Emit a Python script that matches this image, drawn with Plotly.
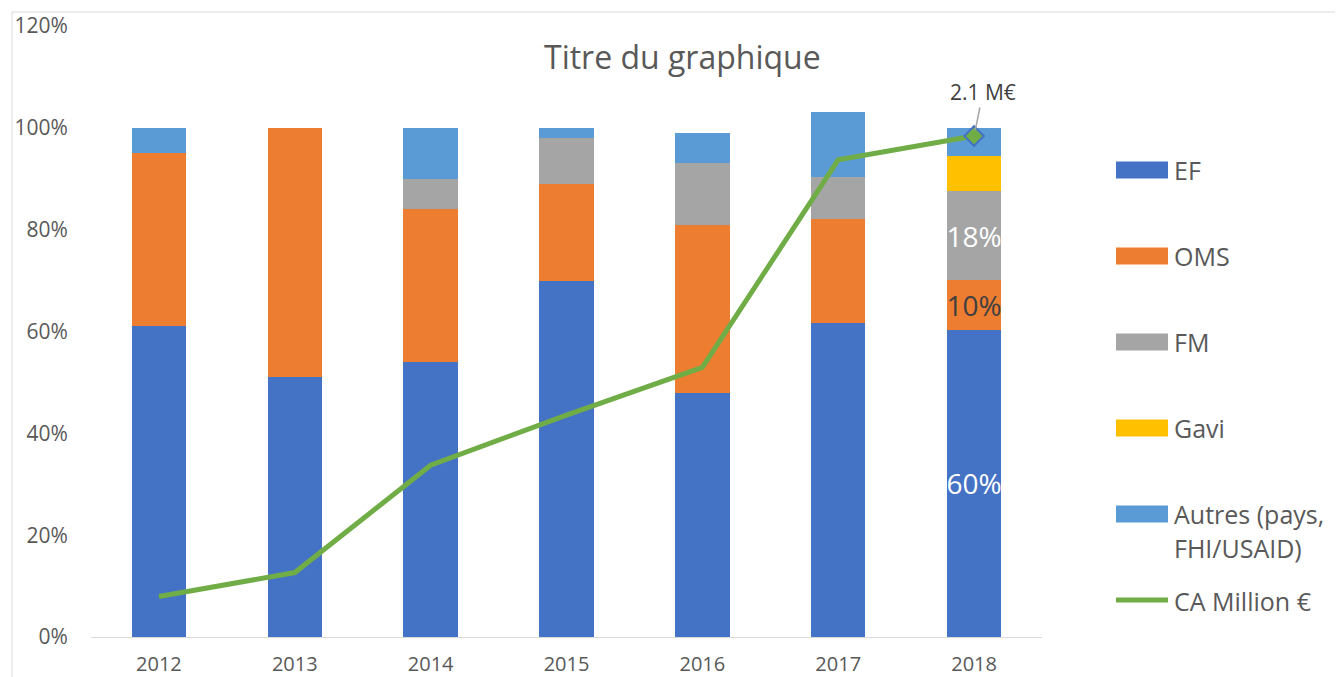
import plotly.graph_objects as go

years = ["2012", "2013", "2014", "2015", "2016", "2017", "2018"]
ef = [61, 51, 54, 70, 48, 61.7, 60.3]
oms = [34, 49, 30, 19, 33, 20.4, 9.8]
fm = [0, 0, 6, 9, 12, 8.3, 17.5]
gavi = [0, 0, 0, 0, 0, 0, 6.9]
autres = [5, 0, 10, 2, 6, 12.7, 5.5]
ca_meur = [0.17, 0.27, 0.72, 0.93, 1.13, 2.0, 2.1]

series = [
    ("EF", ef, "#4472C4", "white"),
    ("OMS", oms, "#ED7D31", "#404040"),
    ("FM", fm, "#A5A5A5", "white"),
    ("Gavi", gavi, "#FFC000", None),
    ("Autres (pays,<br>FHI/USAID)", autres, "#5B9BD5", None),
]
labelled_year = "2018"

FONT = "Open Sans"
GREY = "#595959"

# page offset (default body margin of the html page)
OFF = 8
# plot-area geometry in reference-page pixels
L0, R0, T0, B0 = 91, 1042, 26, 637
L, R, T, B = L0 - OFF, R0 - OFF, T0 - OFF, B0 - OFF
W, H = 1343 - OFF, 677 - OFF


def px(x):
    return (x - L0) / (R0 - L0)


def py(y):
    return (B0 - y) / (B0 - T0)


fig = go.Figure()
for name, vals, color, tcolor in series:
    kw = {}
    if tcolor is not None:
        kw = dict(
            text=[f"{v:.0f}%" if y == labelled_year else "" for y, v in zip(years, vals)],
            textposition="inside", insidetextanchor="middle", textangle=0,
            constraintext="none",
            textfont=dict(family=FONT, size=28, color=tcolor),
        )
    fig.add_trace(go.Bar(x=years, y=vals, name=name,
                         marker=dict(color=color, line=dict(width=0)),
                         showlegend=False, **kw))

fig.add_trace(go.Scatter(
    x=years, y=ca_meur, name="CA Million €", yaxis="y2", mode="lines",
    line=dict(color="#70AD47", width=5), showlegend=False,
))
fig.add_trace(go.Scatter(
    x=years[-1:], y=ca_meur[-1:], yaxis="y2", mode="markers",
    marker=dict(symbol="diamond", size=15, color="#70AD47",
                line=dict(color="#4472C4", width=2)),
    showlegend=False,
))

last_idx = years.index(labelled_year)
annotations = [
    dict(x=last_idx, y=ca_meur[last_idx], xref="x", yref="y2",
         text=f"{ca_meur[last_idx]:.1f} M€", showarrow=True, arrowhead=0,
         arrowcolor="#A6A6A6", arrowwidth=1.5, ax=9, ay=-44, standoff=6,
         font=dict(family=FONT, size=21, color="#404040")),
    dict(x=px(-4), y=py(-7), xref="paper", yref="paper", xanchor="left",
         yanchor="middle", text="l'OMS et le Fonds mondial.", showarrow=False,
         font=dict(family=FONT, size=28, color="#1a1a1a")),
    dict(x=px(682), y=py(56), xref="paper", yref="paper", xanchor="center",
         yanchor="middle", text="Titre du graphique", showarrow=False,
         font=dict(family=FONT, size=32, color=GREY)),
]

shapes = [
    dict(type="rect", xref="paper", yref="paper", x0=px(12), x1=px(1360),
         y0=py(700), y1=py(12), line=dict(color="#D9D9D9", width=1),
         fillcolor="rgba(0,0,0,0)", layer="below"),
]

legend_rows = [("EF", "#4472C4", 170), ("OMS", "#ED7D31", 256), ("FM", "#A5A5A5", 342),
               ("Gavi", "#FFC000", 428), ("Autres (pays,", "#5B9BD5", 514)]
LEG_SIZE = 25
for label, color, yc in legend_rows:
    shapes.append(dict(type="rect", xref="paper", yref="paper", x0=px(1116), x1=px(1168),
                       y0=py(yc + 8.5), y1=py(yc - 8.5), fillcolor=color, line=dict(width=0)))
    annotations.append(dict(x=px(1172), y=py(yc), xref="paper", yref="paper", xanchor="left",
                            yanchor="middle", text=label, showarrow=False,
                            font=dict(family=FONT, size=LEG_SIZE, color=GREY)))
annotations.append(dict(x=px(1172), y=py(548), xref="paper", yref="paper", xanchor="left",
                        yanchor="middle", text="FHI/USAID)", showarrow=False,
                        font=dict(family=FONT, size=LEG_SIZE, color=GREY)))
shapes.append(dict(type="line", xref="paper", yref="paper", x0=px(1116), x1=px(1168),
                   y0=py(600), y1=py(600), line=dict(color="#70AD47", width=5)))
annotations.append(dict(x=px(1172), y=py(601), xref="paper", yref="paper", xanchor="left",
                        yanchor="middle", text="CA Million €", showarrow=False,
                        font=dict(family=FONT, size=LEG_SIZE, color=GREY)))

fig.update_layout(
    width=W, height=H,
    margin=dict(l=L, r=W - R, t=T, b=H - B, pad=0, autoexpand=False),
    barmode="stack", bargap=0.6,
    plot_bgcolor="white", paper_bgcolor="white",
    xaxis=dict(type="category", range=[-0.5, len(years) - 0.5], automargin=False,
               showgrid=False, zeroline=False, showline=True,
               linecolor="#D9D9D9", linewidth=1, ticks="outside", ticklen=9,
               tickcolor="rgba(0,0,0,0)",
               tickfont=dict(family=FONT, size=20, color=GREY)),
    yaxis=dict(range=[0, 120], tickmode="array", tickvals=[0, 20, 40, 60, 80, 100, 120],
               ticktext=[f"{v}%" for v in [0, 20, 40, 60, 80, 100, 120]],
               automargin=False,
               showgrid=False, zeroline=False, showline=False,
               ticks="outside", ticklen=18, tickcolor="rgba(0,0,0,0)",
               tickfont=dict(family=FONT, size=21, color=GREY)),
    yaxis2=dict(overlaying="y", range=[0, ca_meur[-1] * 120 / 98.4], visible=False,
                automargin=False),
    annotations=annotations, shapes=shapes, showlegend=False,
)

fig.write_html("out.html")
